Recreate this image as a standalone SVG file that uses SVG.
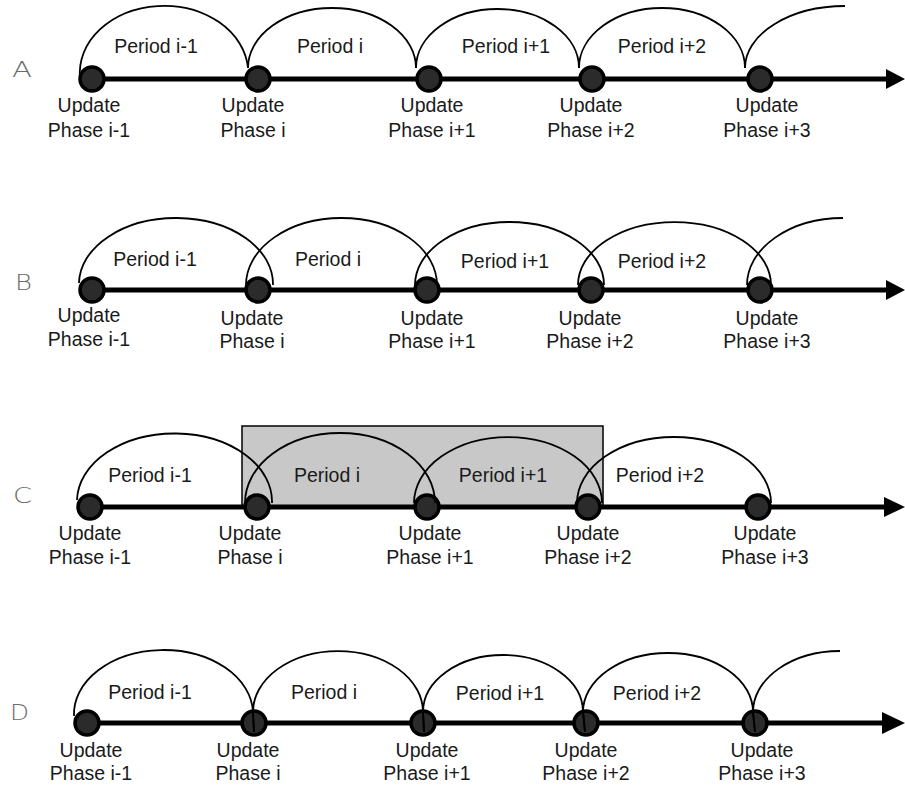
<svg xmlns="http://www.w3.org/2000/svg" width="905" height="787" viewBox="0 0 905 787">
<style>
text{font-family:"Liberation Sans",Arial,sans-serif;font-size:19.5px;fill:#1a1a1a;text-anchor:middle}
text.row{font-family:"DejaVu Sans","Liberation Sans",sans-serif;font-weight:200;font-size:22px;fill:#6a6a6a;text-anchor:start}
.axis{stroke:#000;stroke-width:5;fill:none}
.head{fill:#000}
.arc{stroke:#000;stroke-width:1.8;fill:none}
.node{fill:#2b2b2b;stroke:#000;stroke-width:3.5}
</style>
<rect id="window" x="242" y="426" width="361" height="81" fill="#c8c8c8" stroke="#000" stroke-width="1.5"/>
<g id="axes">
<line class="axis" x1="80" y1="79" x2="888" y2="79"/><polygon class="head" points="886,69 905,79 886,89"/>
<line class="axis" x1="80" y1="290" x2="887" y2="290"/><polygon class="head" points="886,280 905,290 886,300"/>
<line class="axis" x1="78" y1="507" x2="885" y2="507"/><polygon class="head" points="884,497 905,507 884,517"/>
<line class="axis" x1="74" y1="723" x2="884" y2="723"/><polygon class="head" points="882,712 905,723 882,734"/>
</g>
<g id="rowA">
<text class="row" x="12" y="77" textLength="20" lengthAdjust="spacingAndGlyphs">A</text>
<g id="A1"><circle class="node" cx="92" cy="79" r="12"/><text x="89" y="112">Update</text><text x="89" y="137">Phase i-1</text></g>
<g id="A2"><circle class="node" cx="258" cy="79" r="12"/><text x="253" y="112">Update</text><text x="253" y="137">Phase i</text></g>
<g id="A3"><circle class="node" cx="429" cy="79" r="12"/><text x="432" y="112">Update</text><text x="432" y="137">Phase i+1</text></g>
<g id="A4"><circle class="node" cx="592" cy="79" r="12"/><text x="591" y="112">Update</text><text x="591" y="137">Phase i+2</text></g>
<g id="A5"><circle class="node" cx="760" cy="79" r="12"/><text x="767" y="112">Update</text><text x="767" y="137">Phase i+3</text></g>
<text x="156" y="53">Period i-1</text><text x="330" y="53">Period i</text><text x="506" y="53">Period i+1</text><text x="662" y="53">Period i+2</text>
</g>
<g id="rowB">
<text class="row" x="15" y="290" textLength="17" lengthAdjust="spacingAndGlyphs">B</text>
<g id="B1"><circle class="node" cx="92" cy="290" r="12"/><text x="89" y="322">Update</text><text x="89" y="346">Phase i-1</text></g>
<g id="B2"><circle class="node" cx="258" cy="290" r="12"/><text x="252" y="325">Update</text><text x="252" y="348">Phase i</text></g>
<g id="B3"><circle class="node" cx="427" cy="290" r="12"/><text x="432" y="325">Update</text><text x="432" y="348">Phase i+1</text></g>
<g id="B4"><circle class="node" cx="591" cy="290" r="12"/><text x="590" y="325">Update</text><text x="590" y="348">Phase i+2</text></g>
<g id="B5"><circle class="node" cx="760" cy="290" r="12"/><text x="767" y="325">Update</text><text x="767" y="348">Phase i+3</text></g>
<text x="155" y="266">Period i-1</text><text x="328" y="266">Period i</text><text x="505" y="268">Period i+1</text><text x="662" y="268">Period i+2</text>
</g>
<g id="rowC">
<text class="row" x="13" y="503" textLength="19" lengthAdjust="spacingAndGlyphs">C</text>
<g id="C1"><circle class="node" cx="90" cy="507" r="12"/><text x="90" y="540">Update</text><text x="90" y="564">Phase i-1</text></g>
<g id="C2"><circle class="node" cx="257" cy="507" r="12"/><text x="250" y="540">Update</text><text x="250" y="564">Phase i</text></g>
<g id="C3"><circle class="node" cx="427" cy="507" r="12"/><text x="430" y="540">Update</text><text x="430" y="564">Phase i+1</text></g>
<g id="C4"><circle class="node" cx="588" cy="507" r="12"/><text x="588" y="540">Update</text><text x="588" y="564">Phase i+2</text></g>
<g id="C5"><circle class="node" cx="758" cy="507" r="12"/><text x="765" y="540">Update</text><text x="765" y="564">Phase i+3</text></g>
<text x="150" y="482">Period i-1</text><text x="327" y="482">Period i</text><text x="503" y="482">Period i+1</text><text x="660" y="482">Period i+2</text>
</g>
<g id="rowD">
<text class="row" x="10" y="720" textLength="19" lengthAdjust="spacingAndGlyphs">D</text>
<g id="D1"><circle class="node" cx="87" cy="723" r="12"/><text x="91" y="757">Update</text><text x="91" y="780">Phase i-1</text></g>
<g id="D2"><circle class="node" cx="254" cy="723" r="12"/><text x="248" y="757">Update</text><text x="248" y="780">Phase i</text></g>
<g id="D3"><circle class="node" cx="423" cy="723" r="12"/><text x="427" y="757">Update</text><text x="427" y="780">Phase i+1</text></g>
<g id="D4"><circle class="node" cx="586" cy="723" r="12"/><text x="586" y="757">Update</text><text x="586" y="780">Phase i+2</text></g>
<g id="D5"><circle class="node" cx="755" cy="723" r="12"/><text x="762" y="757">Update</text><text x="762" y="780">Phase i+3</text></g>
<text x="150" y="699">Period i-1</text><text x="324" y="699">Period i</text><text x="500" y="700">Period i+1</text><text x="657" y="700">Period i+2</text>
</g>
<g id="connectors">
<path class="arc" d="M80 78 A84 67 0 0 1 248 68"/>
<path class="arc" d="M248 68 A84 60 0 0 1 416 68"/>
<path class="arc" d="M416 68 A81.5 59 0 0 1 579 68"/>
<path class="arc" d="M579 68 A83 60 0 0 1 745 68"/>
<path class="arc" d="M745 68 A100 62 0 0 1 845 6"/>
<path class="arc" d="M79 283 A97 66 0 0 1 273 285"/>
<path class="arc" d="M246 285 A95.5 67 0 0 1 437 285"/>
<path class="arc" d="M415 285 A94.5 63 0 0 1 604 285"/>
<path class="arc" d="M578 285 A96.5 63 0 0 1 771 285"/>
<path class="arc" d="M747 285 A96 67 0 0 1 843 218"/>
<path class="arc" d="M77 500 A97.5 68 0 0 1 272 503"/>
<path class="arc" d="M245 503 A95 70 0 0 1 435 503"/>
<path class="arc" d="M414 503 A94 66 0 0 1 602 503"/>
<path class="arc" d="M577 503 A97 66 0 0 1 771 503"/>
<path class="arc" d="M74 716 A89.5 64 0 0 1 253 712 L254 732"/>
<path class="arc" d="M254 732 L253 712 A85 61 0 0 1 423 712 L424 732"/>
<path class="arc" d="M424 732 L423 712 A80 57 0 0 1 583 712 L585 732"/>
<path class="arc" d="M585 732 L583 712 A85 59 0 0 1 753 712 L755 732"/>
<path class="arc" d="M755 732 L753 712 A87 61 0 0 1 840 651"/>
</g>
</svg>
